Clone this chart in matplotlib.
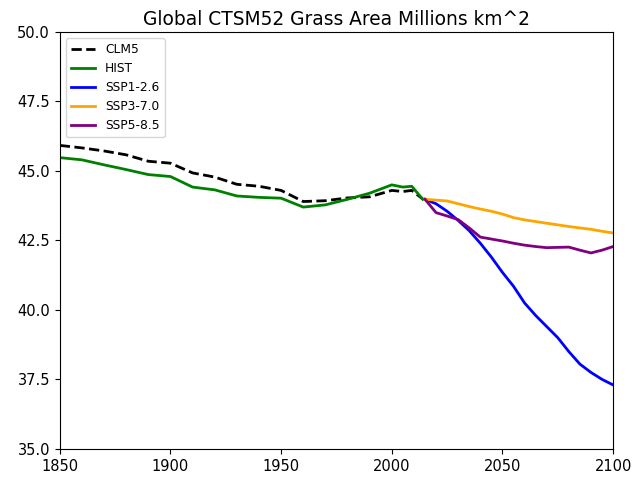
import matplotlib
matplotlib.use("Agg")
import matplotlib.pyplot as plt
import numpy as np

# historical period (CLM5 and HIST share the same years)
hist_years = [1850, 1860, 1870, 1880, 1890, 1900, 1910, 1920, 1930, 1940,
              1950, 1960, 1970, 1980, 1990, 2000, 2005, 2009, 2014]
clm5 = [45.92, 45.83, 45.72, 45.58, 45.35, 45.28, 44.93, 44.78, 44.52, 44.45,
        44.30, 43.90, 43.93, 44.03, 44.07, 44.30, 44.26, 44.30, 43.99]
hist = [45.48, 45.40, 45.22, 45.05, 44.87, 44.80, 44.42, 44.32, 44.10, 44.05,
        44.02, 43.70, 43.78, 43.98, 44.20, 44.50, 44.42, 44.45, 43.98]

# scenario period
ssp_years = [2015, 2020, 2025, 2030, 2035, 2040, 2045, 2050, 2055, 2060,
             2065, 2070, 2075, 2080, 2085, 2090, 2095, 2100]
ssp126 = [43.98, 43.82, 43.55, 43.22, 42.85, 42.40, 41.90, 41.35, 40.85, 40.25,
          39.80, 39.40, 39.00, 38.50, 38.05, 37.75, 37.50, 37.30]
ssp370 = [43.98, 43.95, 43.92, 43.82, 43.72, 43.63, 43.55, 43.45, 43.32, 43.24,
          43.18, 43.12, 43.06, 43.00, 42.95, 42.90, 42.83, 42.77]
ssp585 = [43.98, 43.50, 43.38, 43.25, 42.95, 42.62, 42.55, 42.48, 42.40, 42.33,
          42.28, 42.24, 42.25, 42.26, 42.15, 42.05, 42.15, 42.28]

fig = plt.figure(figsize=(6.36, 4.78), dpi=100)
ax = fig.add_axes([0.094, 0.061, 0.870, 0.872])

ax.plot(hist_years, clm5, color="black", ls="--", lw=2, label="CLM5")
ax.plot(hist_years, hist, color="green", lw=2, label="HIST")
ax.plot(ssp_years, ssp126, color="blue", lw=2, label="SSP1-2.6")
ax.plot(ssp_years, ssp370, color="orange", lw=2, label="SSP3-7.0")
ax.plot(ssp_years, ssp585, color="purple", lw=2, label="SSP5-8.5")

ax.set_xlim(1850, 2100)
ax.set_ylim(35, 50)
ax.set_yticks(np.arange(35, 50.1, 2.5))
ax.yaxis.set_major_formatter(matplotlib.ticker.FormatStrFormatter("%.1f"))
ax.tick_params(labelsize=10.5)
ax.set_title("Global CTSM52 Grass Area Millions km^2", fontsize=13.4, pad=5)
ax.legend(loc="upper left", fontsize=8.8)

fig.savefig("out.png", dpi=100)
